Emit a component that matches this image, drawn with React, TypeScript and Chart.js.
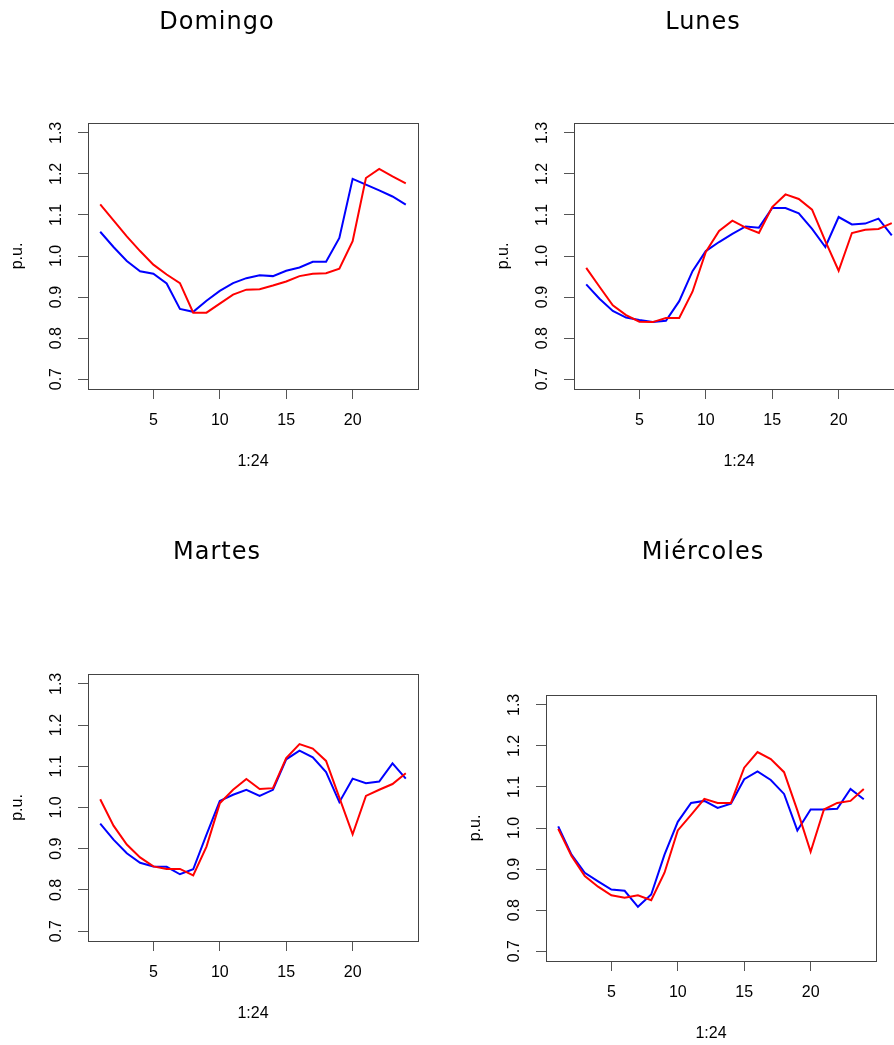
import React, { useEffect, useRef } from "react";
import { Chart, registerables } from "chart.js";

Chart.register(...registerables);

// Hours of the day (1:24)
const horas = [1, 2, 3, 4, 5, 6, 7, 8, 9, 10, 11, 12, 13, 14, 15, 16, 17, 18, 19, 20, 21, 22, 23, 24];

// Per-unit load profiles, red and blue curve for each day
const domingoRoja = [1.126, 1.087, 1.048, 1.012, 0.979, 0.955, 0.934, 0.862, 0.862, 0.884, 0.906, 0.918, 0.919, 0.928, 0.938, 0.951, 0.957, 0.958, 0.969, 1.036, 1.19, 1.212, 1.194, 1.177];
const domingoAzul = [1.059, 1.022, 0.988, 0.963, 0.957, 0.933, 0.871, 0.864, 0.891, 0.915, 0.934, 0.946, 0.953, 0.951, 0.964, 0.972, 0.986, 0.986, 1.044, 1.188, 1.174, 1.16, 1.145, 1.125];

const lunesRoja = [0.971, 0.925, 0.88, 0.856, 0.84, 0.839, 0.849, 0.849, 0.913, 1.01, 1.061, 1.086, 1.069, 1.056, 1.119, 1.15, 1.139, 1.113, 1.036, 0.964, 1.056, 1.064, 1.066, 1.08];
const lunesAzul = [0.931, 0.896, 0.866, 0.85, 0.844, 0.839, 0.842, 0.89, 0.963, 1.012, 1.034, 1.054, 1.072, 1.069, 1.117, 1.117, 1.104, 1.066, 1.022, 1.095, 1.077, 1.079, 1.091, 1.05];

const martesRoja = [1.02, 0.956, 0.91, 0.879, 0.857, 0.851, 0.851, 0.835, 0.905, 1.01, 1.043, 1.069, 1.045, 1.047, 1.12, 1.154, 1.143, 1.113, 1.024, 0.935, 1.028, 1.043, 1.057, 1.083];
const martesAzul = [0.961, 0.922, 0.889, 0.866, 0.857, 0.856, 0.838, 0.85, 0.934, 1.016, 1.031, 1.043, 1.028, 1.043, 1.117, 1.138, 1.122, 1.086, 1.013, 1.07, 1.059, 1.063, 1.107, 1.07];

const miercolesRoja = [0.998, 0.932, 0.883, 0.857, 0.836, 0.83, 0.836, 0.824, 0.891, 0.994, 1.032, 1.071, 1.061, 1.061, 1.147, 1.185, 1.168, 1.136, 1.043, 0.942, 1.045, 1.061, 1.066, 1.095];
const miercolesAzul = [1.004, 0.935, 0.891, 0.87, 0.85, 0.847, 0.808, 0.838, 0.935, 1.015, 1.061, 1.066, 1.049, 1.059, 1.119, 1.138, 1.117, 1.083, 0.994, 1.045, 1.045, 1.047, 1.095, 1.07];

// Axis ticks and labels
const ticksX = [5, 10, 15, 20];
const ticksY = [0.7, 0.8, 0.9, 1.0, 1.1, 1.2, 1.3];
const etiquetaX = "1:24";
const etiquetaY = "p.u.";

// Axis limits (range plus the usual 4% margin on each side)
const limitesX = [0.08, 24.92];
const limitesY = [0.676, 1.324];

const ANCHO_EJE_Y = 88;
const ALTO_EJE_X = 90;
const PAD_DER = 10;
const PAD_INF = 2;

const FUENTE_EJES = "'Liberation Sans', Arial, sans-serif";
const FUENTE_TITULO = "'DejaVu Sans', sans-serif";

type Area = { left: number; top: number; width: number; height: number };
type Cabecera = { texto: string; x: number; base: number; filaTop: number };

// Box around the plotting region
const marco = {
  id: "marco",
  afterDatasetsDraw(chart: any) {
    const { ctx, chartArea: a } = chart;
    ctx.save();
    ctx.strokeStyle = "#444";
    ctx.lineWidth = 1;
    ctx.strokeRect(
      Math.round(a.left) + 0.5,
      Math.round(a.top) + 0.5,
      Math.round(a.right - a.left),
      Math.round(a.bottom - a.top)
    );
    ctx.restore();
  },
};

// Day name drawn above each panel
const tituloDia = {
  id: "tituloDia",
  afterDraw(chart: any, _args: any, opts: any) {
    if (!opts || !opts.texto) return;
    const { ctx } = chart;
    ctx.save();
    ctx.fillStyle = "#000";
    ctx.font = `24px ${FUENTE_TITULO}`;
    (ctx as any).letterSpacing = "1px";
    ctx.textAlign = "center";
    ctx.textBaseline = "alphabetic";
    ctx.fillText(opts.texto, opts.x, opts.y);
    ctx.restore();
  },
};

function Panel({ roja, azul, area, cab }: { roja: number[]; azul: number[]; area: Area; cab: Cabecera }) {
  const ref = useRef<HTMLCanvasElement | null>(null);
  const izq = area.left - ANCHO_EJE_Y;
  const padSup = area.top - cab.filaTop;
  const w = ANCHO_EJE_Y + area.width + PAD_DER;
  const h = padSup + area.height + ALTO_EJE_X + PAD_INF;

  useEffect(() => {
    if (!ref.current) return;
    const chart = new Chart(ref.current, {
      type: "line",
      data: {
        datasets: [
          {
            data: horas.map((x, i) => ({ x, y: roja[i] })),
            borderColor: "#ff0000",
            borderWidth: 2,
            pointRadius: 0,
            tension: 0,
            fill: false,
          },
          {
            data: horas.map((x, i) => ({ x, y: azul[i] })),
            borderColor: "#0000ff",
            borderWidth: 2,
            pointRadius: 0,
            tension: 0,
            fill: false,
          },
        ],
      },
      options: {
        animation: false,
        responsive: false,
        devicePixelRatio: 1,
        layout: { padding: { left: 0, top: padSup, right: PAD_DER, bottom: PAD_INF } },
        plugins: {
          legend: { display: false },
          tooltip: { enabled: false },
          title: { display: false },
          tituloDia: { texto: cab.texto, x: cab.x - izq, y: cab.base - cab.filaTop },
        },
        scales: {
          x: {
            type: "linear",
            min: limitesX[0],
            max: limitesX[1],
            afterBuildTicks: (s: any) => {
              s.ticks = ticksX.map((value) => ({ value }));
            },
            afterFit: (s: any) => {
              s.height = ALTO_EJE_X;
              s.paddingLeft = 0;
              s.paddingRight = 0;
            },
            border: { display: false },
            grid: { drawOnChartArea: false, drawTicks: true, tickLength: 10, color: "#555", lineWidth: 1 },
            ticks: {
              autoSkip: false,
              maxRotation: 0,
              padding: 12,
              color: "#000",
              font: { family: FUENTE_EJES, size: 16 },
              callback: (v: any) => String(v),
            },
            title: {
              display: true,
              text: etiquetaX,
              color: "#000",
              font: { family: FUENTE_EJES, size: 16 },
              padding: { top: 0, bottom: 8 },
            },
          },
          y: {
            type: "linear",
            min: limitesY[0],
            max: limitesY[1],
            afterBuildTicks: (s: any) => {
              s.ticks = ticksY.map((value) => ({ value }));
            },
            afterFit: (s: any) => {
              s.width = ANCHO_EJE_Y;
              s.paddingTop = 0;
              s.paddingBottom = 0;
            },
            border: { display: false },
            grid: { drawOnChartArea: false, drawTicks: true, tickLength: 10, color: "#555", lineWidth: 1 },
            ticks: {
              autoSkip: false,
              minRotation: 90,
              maxRotation: 90,
              crossAlign: "center",
              padding: 10,
              color: "#000",
              font: { family: FUENTE_EJES, size: 16 },
              callback: (v: any) => Number(v).toFixed(1),
            },
            title: {
              display: true,
              text: etiquetaY,
              color: "#000",
              font: { family: FUENTE_EJES, size: 16 },
              padding: { top: 8, bottom: 0 },
            },
          },
        },
      } as any,
      plugins: [marco, tituloDia],
    });
    return () => chart.destroy();
  }, [roja, azul]);

  return (
    <canvas
      ref={ref}
      width={w}
      height={h}
      style={{ position: "absolute", left: izq, top: cab.filaTop, width: w, height: h }}
    />
  );
}

export default function App() {
  return (
    <div
      style={{
        position: "absolute",
        left: 0,
        top: 0,
        width: 894,
        height: 1045,
        overflow: "hidden",
        background: "#fff",
      }}
    >
      <Panel
        roja={domingoRoja}
        azul={domingoAzul}
        area={{ left: 88, top: 123, width: 330, height: 266 }}
        cab={{ texto: "Domingo", x: 217, base: 29, filaTop: 0 }}
      />
      <Panel
        roja={lunesRoja}
        azul={lunesAzul}
        area={{ left: 574, top: 123, width: 330, height: 266 }}
        cab={{ texto: "Lunes", x: 703, base: 29, filaTop: 0 }}
      />
      <Panel
        roja={martesRoja}
        azul={martesAzul}
        area={{ left: 88, top: 674, width: 330, height: 267 }}
        cab={{ texto: "Martes", x: 217, base: 559, filaTop: 530 }}
      />
      <Panel
        roja={miercolesRoja}
        azul={miercolesAzul}
        area={{ left: 546, top: 695, width: 330, height: 266 }}
        cab={{ texto: "Miércoles", x: 703, base: 559, filaTop: 530 }}
      />
    </div>
  );
}
